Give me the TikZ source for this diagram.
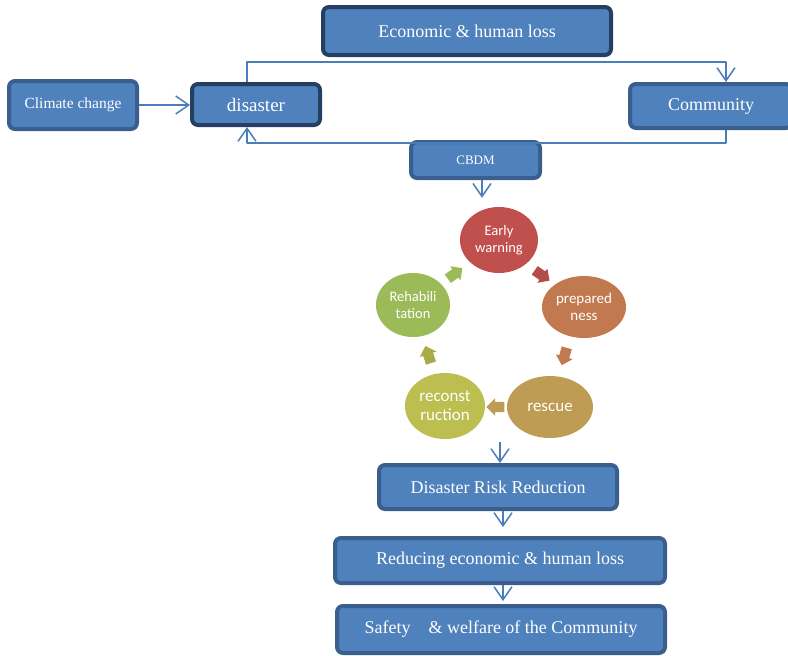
\documentclass[tikz,border=0pt]{standalone}
\usepackage{fontspec}
\setmainfont{Liberation Serif}
\newfontfamily\cyclefont{Carlito}
\usetikzlibrary{arrows.meta, positioning, shapes.geometric, shapes.arrows}
\definecolor{boxblue}{HTML}{4F81BD}
\definecolor{edgeblue}{HTML}{3A5F8F}
\definecolor{edgedark}{HTML}{243F62}
\definecolor{lineblue}{HTML}{4A7EBB}
\definecolor{ewred}{HTML}{C0504D}
\definecolor{preporange}{HTML}{C17A4F}
\definecolor{rescbrown}{HTML}{BF9C53}
\definecolor{reconolive}{HTML}{BCBE50}
\definecolor{rehabgreen}{HTML}{9BBB59}
\tikzset{
  box/.style={rectangle, draw=edgeblue, line width=4pt, fill=boxblue, rounded corners=6pt, text=white, align=center, inner sep=2pt, font=\fontsize{18}{20}\selectfont},
  darkbox/.style={box, draw=edgedark},
  phase/.style={ellipse, text=white, align=center, inner sep=0pt},
  turn/.style={single arrow, minimum height=18pt, inner xsep=4pt, inner ysep=5pt, single arrow head extend=3.5pt},
  link/.style={draw=lineblue, line width=1.5pt, line join=round, -{Straight Barb[length=13pt,width=18pt]}}
}

\begin{document}
\begin{tikzpicture}[x=1pt, y=-1pt]
    \useasboundingbox (0,0) rectangle (788,656);
    \clip (0,0) rectangle (788,656);
    % top row
    \node[darkbox, minimum width=288pt, minimum height=48pt] (econ) at (467,31) {Economic \& human loss};
    \node[box, minimum width=128pt, minimum height=48pt, font=\fontsize{15.5}{18}\selectfont] (climate) at (73,105) {Climate change};
    \node[darkbox, minimum width=128pt, minimum height=41pt, font=\fontsize{19}{21}\selectfont] (disaster) at (256,104.5) {disaster};
    \node[box, minimum width=162pt, minimum height=44pt] (community) at (711,106) {Community};
    \node[box, minimum width=129pt, minimum height=36pt, font=\fontsize{13}{15}\selectfont] (cbdm) at (475.5,160) {CBDM};
    % cycle
    \node[phase, fill=ewred, minimum width=78pt, minimum height=66pt, font=\cyclefont\fontsize{14.5}{17}\selectfont] (ew) at (499,240) {Early\\warning};
    \node[phase, fill=preporange, minimum width=84pt, minimum height=62pt, font=\cyclefont\fontsize{15}{17}\selectfont] (prep) at (584,307) {prepared\\ness};
    \node[phase, fill=rescbrown, minimum width=86pt, minimum height=62pt, font=\cyclefont\fontsize{17}{19}\selectfont] (resc) at (550,407) {rescue};
    \node[phase, fill=reconolive, minimum width=80pt, minimum height=66pt, font=\cyclefont\fontsize{17}{19}\selectfont] (recon) at (445,406) {reconst\\ruction};
    \node[phase, fill=rehabgreen, minimum width=74pt, minimum height=64pt, font=\cyclefont\fontsize{14.5}{17}\selectfont] (rehab) at (413,305) {Rehabili\\tation};
    \node[turn, fill=ewred!95!black, rotate=-35] (t1) at (540,274) {};
    \node[turn, fill=preporange, rotate=-106] (t2) at (565,354) {};
    \node[turn, fill=rescbrown, rotate=180] (t3) at (498,407) {};
    \node[turn, fill=reconolive!90!black, rotate=108] (t4) at (429,357) {};
    \node[turn, fill=rehabgreen, rotate=36] (t5) at (453,275) {};
    \coordinate (cyc) at (500,442);
    % bottom stack
    \node[box, minimum width=238pt, minimum height=44pt] (drr) at (498,487) {Disaster Risk Reduction};
    \node[box, minimum width=330pt, minimum height=45pt] (reduce) at (500,560.5) {Reducing economic \& human loss};
    \node[box, minimum width=328pt, minimum height=47pt] (safety) at (501,629.5) {Safety\quad\& welfare of the Community};
    % loop between disaster and community
    \coordinate (upL) at (247,62);
    \coordinate (upR) at (726,62);
    \coordinate (dnL) at (247,143);
    \coordinate (dnR) at (726,143);
    \draw[link] (climate.east) -- (climate.east -| disaster.west);
    \draw[link] (upL |- disaster.north) -- (upL) -- (upR) -- (upR |- community.north);
    \draw[link] (dnR |- community.south) -- (dnR) -- (dnL) -- (dnL |- disaster.south);
    \draw[link, shorten >=9pt] ([xshift=6.5pt]cbdm.south) -- ([xshift=6.5pt]cbdm.south |- ew.north);
    \draw[link] (cyc) -- (cyc |- drr.north);
    \draw[link, shorten >=9pt] ([xshift=5pt]drr.south) -- ([xshift=5pt]drr.south |- reduce.north);
    \draw[link, shorten >=3pt] ([xshift=3pt]reduce.south) -- ([xshift=3pt]reduce.south |- safety.north);
\end{tikzpicture}
\end{document}
